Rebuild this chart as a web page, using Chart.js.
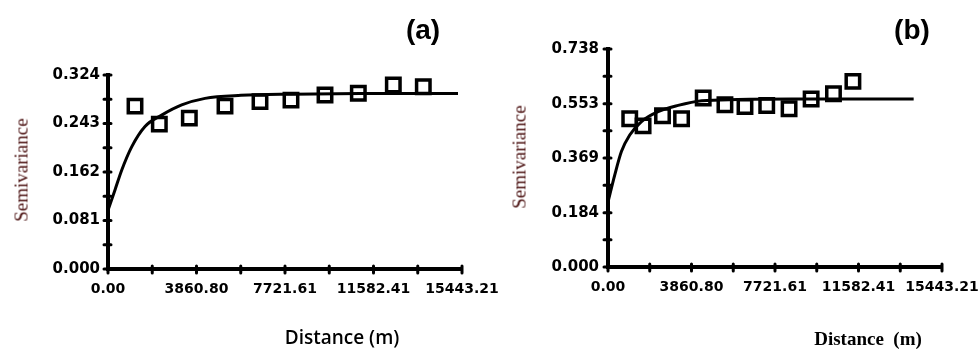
<!DOCTYPE html>
<html>
<head>
<meta charset="utf-8">
<script src="https://cdn.jsdelivr.net/npm/chart.js"></script>
<style>
body{margin:0;background:#fff;width:979px;height:349px;overflow:hidden;position:relative}
canvas{position:absolute;top:0}
.lbl{position:absolute;white-space:nowrap;color:#000;line-height:1}
.ttl{font-family:"Liberation Sans",Arial,sans-serif;font-weight:700;font-size:28px;transform:translate(-50%,-50%)}
.semi{font-family:"Liberation Serif","Times New Roman",serif;font-size:19px;color:#4a1010;transform:translate(-50%,-50%) rotate(-90deg)}
.distA{font-family:"Open Sans",sans-serif;font-weight:600;font-size:19px;transform:translate(-50%,-50%)}
.distB{font-family:"Liberation Serif",serif;font-weight:700;font-size:19px;transform:translate(-50%,-50%)}
</style>
</head>
<body>
<canvas id="chA" width="520" height="349" style="left:0;width:520px;height:349px"></canvas>
<canvas id="chB" width="489" height="349" style="left:490px;width:489px;height:349px"></canvas>
<div class="lbl ttl" style="left:423px;top:30px">(a)</div>
<div class="lbl ttl" style="left:912px;top:30px">(b)</div>
<div class="lbl semi" style="left:21px;top:170px">Semivariance</div>
<div class="lbl semi" style="left:519px;top:157px">Semivariance</div>
<div class="lbl distA" style="left:342px;top:337px">Distance (m)</div>
<div class="lbl distB" style="left:868px;top:338px">Distance&nbsp;&nbsp;(m)</div>
<script>
// ---- shared x axis (distance, m) ----
const xTicks=[0,1930.40,3860.80,5791.21,7721.61,9652.01,11582.41,13512.81,15443.21];
const xLabels=['0.00','','3860.80','','7721.61','','11582.41','','15443.21'];

// ---- panel (a) ----
const yTicksA=[0,0.0405,0.081,0.1215,0.162,0.2025,0.243,0.2835,0.324];
const yLabelsA=['0.000','','0.081','','0.162','','0.243','','0.324'];
const lagA=[1178,2239,3548,5104,6631,7983,9467,10920,12447,13755];
const semiA=[0.272,0.242,0.252,0.272,0.2795,0.282,0.2906,0.2934,0.3073,0.3045];
const fitAx=[0,305,597,1033,1614,2343,3215,4232,5800,8000,11000,15268];
const fitAy=[0.098,0.132,0.165,0.204,0.238,0.257,0.274,0.285,0.290,0.292,0.293,0.293];

// ---- panel (b) ----
const yTicksB=[0,0.09225,0.184,0.27675,0.369,0.46125,0.553,0.64575,0.738];
const yLabelsB=['0.000','','0.184','','0.369','','0.553','','0.738'];
const lagB=[1005,1622,2520,3401,4402,5407,6334,7339,8372,9392,10425,11324];
const semiB=[0.5016,0.4778,0.5118,0.5016,0.5719,0.549,0.5434,0.5468,0.5356,0.5685,0.5865,0.6283];
const fitBx=[0,310,620,1005,1547,2317,3243,4327,6000,8500,14133];
const fitBy=[0.22,0.311,0.391,0.447,0.4925,0.526,0.547,0.5627,0.567,0.5685,0.5685];

const xFont={family:'"DejaVu Sans",sans-serif',size:14,weight:'bold'};
const yFont={family:'"DejaVu Sans",sans-serif',size:15,weight:'bold'};

// tick marks that cross the axis line (dots on both sides)
const crossTicks={id:'crossTicks',afterDraw(chart){
  const c=chart.ctx,a=chart.chartArea,sx=chart.scales.x,sy=chart.scales.y;
  c.save();c.strokeStyle='#000';c.lineWidth=3;c.lineCap='round';c.beginPath();
  sx.ticks.forEach(t=>{const px=sx.getPixelForValue(t.value);c.moveTo(px,a.bottom-3);c.lineTo(px,a.bottom+4);});
  sy.ticks.forEach(t=>{const py=sy.getPixelForValue(t.value);c.moveTo(a.left-4,py);c.lineTo(a.left+3,py);});
  c.stroke();c.restore();
}};

function panel(id,p){
  const pts=p.lag.map((v,i)=>({x:v,y:p.semi[i]}));
  const fit=p.fx.map((v,i)=>({x:v,y:p.fy[i]}));
  return new Chart(document.getElementById(id),{
    type:'scatter',
    data:{datasets:[
      {data:fit,showLine:true,borderColor:'#000',borderWidth:3,pointRadius:0,cubicInterpolationMode:'monotone',order:2},
      {data:pts,pointStyle:'rect',pointRadius:9.5,borderWidth:3.5,borderColor:'#000',backgroundColor:'rgba(255,255,255,0)',order:1}
    ]},
    plugins:[crossTicks],
    options:{responsive:false,animation:false,
      layout:{padding:{left:0,right:p.padR,top:p.padT,bottom:0}},
      plugins:{legend:{display:false},tooltip:{enabled:false}},
      scales:{
        x:{type:'linear',min:0,max:15443.21,
          afterBuildTicks:s=>{s.ticks=xTicks.map(v=>({value:v}));},
          afterFit:s=>{s.height=p.xH;s.paddingLeft=0;s.paddingRight=0;},
          ticks:{autoSkip:false,maxRotation:0,padding:12,color:'#000',font:xFont,callback:(v,i)=>xLabels[i]},
          grid:{drawOnChartArea:false,drawTicks:false},
          border:{display:true,width:4,color:'#000'}},
        y:{type:'linear',min:0,max:p.yMax,
          afterBuildTicks:s=>{s.ticks=p.yTicks.map(v=>({value:v}));},
          afterFit:s=>{s.width=p.yW;s.paddingTop=0;s.paddingBottom=0;},
          ticks:{autoSkip:false,padding:p.yPad,color:'#000',font:yFont,callback:(v,i)=>p.yLabels[i]},
          grid:{drawOnChartArea:false,drawTicks:false},
          border:{display:true,width:4,color:'#000'}}
      }}
  });
}

panel('chA',{lag:lagA,semi:semiA,fx:fitAx,fy:fitAy,yTicks:yTicksA,yLabels:yLabelsA,yMax:0.324,
  yW:108,xH:80,padR:58,padT:75,yPad:8});
panel('chB',{lag:lagB,semi:semiB,fx:fitBx,fy:fitBy,yTicks:yTicksB,yLabels:yLabelsB,yMax:0.738,
  yW:118,xH:82,padR:37,padT:49,yPad:9});
</script>
</body>
</html>
